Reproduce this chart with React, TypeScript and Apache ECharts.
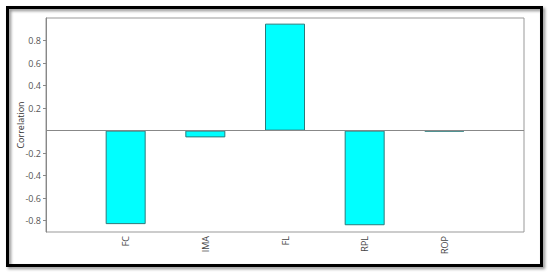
import React, { useEffect, useRef } from "react";
import * as echarts from "echarts";

const categories = ["", "FC", "IMA", "FL", "RPL", "ROP", ""];
const correlations = [null, -0.83, -0.06, 0.95, -0.84, -0.008, null];
const yTickValues = [-0.8, -0.6, -0.4, -0.2, 0.2, 0.4, 0.6, 0.8];

export default function App() {
  const ref = useRef<HTMLDivElement>(null);
  useEffect(() => {
    if (!ref.current) return;
    const chart = echarts.init(ref.current, null, { renderer: "svg" });
    const font = "'Open Sans', 'DejaVu Sans', sans-serif";
    chart.setOption({
      animation: false,
      backgroundColor: "#ffffff",
      graphic: [
        {
          type: "rect",
          shape: { x: 7.5, y: 7.5, width: 534, height: 258 },
          style: {
            fill: "none",
            stroke: "#000",
            lineWidth: 3,
            shadowBlur: 3,
            shadowOffsetX: 2,
            shadowOffsetY: 2,
            shadowColor: "rgba(0,0,0,0.45)",
          },
          z: 100,
        },
      ],
      grid: { left: 46, right: 26, top: 18, bottom: 43, show: true, borderColor: "#999", borderWidth: 1 },
      xAxis: {
        type: "category",
        data: categories,
        boundaryGap: false,
        axisLine: { show: false },
        axisTick: { show: false },
        splitLine: { show: false },
        axisLabel: { rotate: 90, fontSize: 9, color: "#444", fontFamily: font, margin: 4, interval: 0 },
      },
      yAxis: {
        type: "value",
        min: -0.9,
        max: 1.0,
        name: "Correlation",
        nameLocation: "middle",
        nameGap: 21,
        nameMoveOverlap: false,
        nameTextStyle: { fontSize: 9, color: "#333", fontFamily: font },
        axisLine: { show: true, lineStyle: { color: "#888" } },
        axisTick: { show: true, length: 3, lineStyle: { color: "#888" }, customValues: yTickValues },
        splitLine: { show: false },
        axisLabel: {
          fontSize: 9,
          color: "#555",
          fontFamily: font,
          margin: 5,
          customValues: yTickValues,
          formatter: (v: number) => (Math.round(v * 10) / 10).toFixed(1),
        },
      },
      series: [
        {
          type: "bar",
          data: correlations,
          barWidth: 40,
          itemStyle: { color: "#00ffff", borderColor: "#2b7b7b", borderWidth: 1 },
          markLine: {
            silent: true,
            symbol: "none",
            label: { show: false },
            lineStyle: { color: "#888", type: "solid", width: 1 },
            data: [{ yAxis: 0 }],
          },
        },
      ],
    });
    return () => chart.dispose();
  }, []);
  return (
    <div
      ref={ref}
      style={{ position: "absolute", left: 0, top: 0, width: 550, height: 275 }}
    />
  );
}
